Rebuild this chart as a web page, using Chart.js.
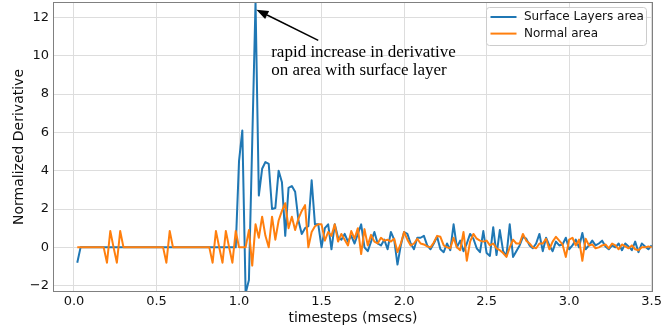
<!DOCTYPE html>
<html>
<head>
<meta charset="utf-8">
<script src="https://cdn.jsdelivr.net/npm/chart.js@4.4.0/dist/chart.umd.min.js"></script>
<style>
  html, body { margin: 0; padding: 0; background: #fff; }
  #chart { display: block; }
</style>
</head>
<body>
<canvas id="chart" width="671" height="333"></canvas>
<script>
// Data
const timesteps = [
  0.02, 0.04, 0.06, 0.08, 0.10, 0.12, 0.14, 0.16, 0.18, 0.20,
  0.22, 0.24, 0.26, 0.28, 0.30, 0.32, 0.34, 0.36, 0.38, 0.40,
  0.42, 0.44, 0.46, 0.48, 0.50, 0.52, 0.54, 0.56, 0.58, 0.60,
  0.62, 0.64, 0.66, 0.68, 0.70, 0.72, 0.74, 0.76, 0.78, 0.80,
  0.82, 0.84, 0.86, 0.88, 0.90, 0.92, 0.94, 0.96, 0.98, 1.00,
  1.02, 1.04, 1.06, 1.08, 1.10, 1.12, 1.14, 1.16, 1.18, 1.20,
  1.22, 1.24, 1.26, 1.28, 1.30, 1.32, 1.34, 1.36, 1.38, 1.40,
  1.42, 1.44, 1.46, 1.48, 1.50, 1.52, 1.54, 1.56, 1.58, 1.60,
  1.62, 1.64, 1.66, 1.68, 1.70, 1.72, 1.74, 1.76, 1.78, 1.80,
  1.82, 1.84, 1.86, 1.88, 1.90, 1.92, 1.94, 1.96, 1.98, 2.00,
  2.02, 2.04, 2.06, 2.08, 2.10, 2.12, 2.14, 2.16, 2.18, 2.20,
  2.22, 2.24, 2.26, 2.28, 2.30, 2.32, 2.34, 2.36, 2.38, 2.40,
  2.42, 2.44, 2.46, 2.48, 2.50, 2.52, 2.54, 2.56, 2.58, 2.60,
  2.62, 2.64, 2.66, 2.68, 2.70, 2.72, 2.74, 2.76, 2.78, 2.80,
  2.82, 2.84, 2.86, 2.88, 2.90, 2.92, 2.94, 2.96, 2.98, 3.00,
  3.02, 3.04, 3.06, 3.08, 3.10, 3.12, 3.14, 3.16, 3.18, 3.20,
  3.22, 3.24, 3.26, 3.28, 3.30, 3.32, 3.34, 3.36, 3.38, 3.40,
  3.42, 3.44, 3.46, 3.48, 3.50,
];

const surfaceLayers = [
  -0.8, 0, 0, 0, 0, 0, 0, 0, 0, 0,
  0, 0, 0, 0, 0, 0, 0, 0, 0, 0,
  0, 0, 0, 0, 0, 0, 0, 0, 0, 0,
  0, 0, 0, 0, 0, 0, 0, 0, 0, 0,
  0, 0, 0, 0, 0, 0, 0, 0, 0, 4.5,
  6.1, -2.4, -1.7, 5.5, 12.8, 2.7, 4.1, 4.45, 4.35, 2.0,
  2.05, 4.0, 3.4, 0.6, 3.1, 3.2, 2.9, 1.4, 0.7, 1.0,
  1.1, 3.5, 1.2, 1.2, 0.0, 1.0, 1.2, -0.1, 1.2, 0.5,
  0.4, 0.7, 0.3, 0.6, 0.2, 0.7, 1.2, 0.0, -0.2, 0.3,
  0.8, 0.2, 0.1, 0.4, -0.1, 0.8, 0.4, -0.9, 0.1, 0.8,
  0.7, 0.2, -0.1, 0.5, 0.5, 0.6, 0.1, -0.1, 0.2, 0.55,
  -0.1, -0.25, 0.2, -0.15, 1.2, 0.0, 0.35, -0.2, 0.2, 0.7,
  0.45, -0.05, -0.25, 0.85, -0.3, -0.45, 1.05, -0.4, 0.9, -0.2,
  -0.45, 1.2, -0.5, -0.2, 0.1, 0.55, 0.45, 0.1, -0.05, 0.2,
  0.7, -0.2, 0.5, 0.1, -0.2, 0.3, 0.1, 0.15, 0.5, -0.1,
  0.1, 0.4, 0.0, 0.75, -0.1, 0.1, 0.35, 0.1, 0.2, 0.35,
  0.05, -0.1, 0.1, 0.0, 0.2, -0.15, 0.2, 0.05, -0.15, 0.3,
  -0.25, 0.2, 0.05, -0.1, 0.1,
];

const normalArea = [
  0, 0, 0, 0, 0, 0, 0, 0, 0, -0.8,
  0.85, 0, -0.8, 0.85, 0, 0, 0, 0, 0, 0,
  0, 0, 0, 0, 0, 0, 0, -0.8, 0.85, 0,
  0, 0, 0, 0, 0, 0, 0, 0, 0, 0,
  0, -0.8, 0.85, 0, -0.8, 0.85, 0, -0.8, 0.85, 0,
  0, 0, 0.9, -0.95, 1.2, 0.5, 1.6, 0.6, 0.0, 1.6,
  0.4, 1.4, 1.9, 2.3, 1.0, 1.6, 0.9, 1.5, 1.9, 2.2,
  0.0, 0.8, 1.1, 1.2, 1.2, 0.35, 0.8, 0.6, 1.2, 0.3,
  0.7, 0.4, 0.1, 0.85, 0.45, 1.0, -0.35, 0.95, 0.1, 0.65,
  0.3, 0.2, 0.5, 0.35, 0.4, 0.3, 0.45, -0.25, 0.2, 0.8,
  0.4, 0.1, 0.2, 0.45, 0.2, 0.15, 0.05, 0.0, 0.25, 0.6,
  0.55, 0.1, 0.0, -0.05, 0.5, 0.0, -0.15, 0.8, -0.7, 0.3,
  0.7, 0.45, 0.35, 0.3, 0.35, 0.1, 0.2, -0.05, -0.15, -0.3,
  -0.5, 0.0, 0.4, 0.2, 0.2, 0.7, 0.35, 0.2, 0.0, -0.05,
  0.2, 0.2, 0.45, -0.1, 0.3, 0.55, 0.35, 0.15, -0.5, 0.4,
  0.5, 0.1, 0.4, -0.7, 0.45, 0.1, 0.15, -0.05, 0.0, 0.1,
  0.15, -0.05, 0.2, 0.1, -0.1, 0.15, 0.05, -0.05, 0.1, -0.1,
  -0.15, 0.0, 0.0, 0.05, 0.0,
];

const xTicks = [0, 0.5, 1, 1.5, 2, 2.5, 3, 3.5];
const yTicks = [-2, 0, 2, 4, 6, 8, 10, 12];
const seriesNames = ["Surface Layers area", "Normal area"];
const seriesColors = ["#1f77b4", "#ff7f0e"];
const noteLines = ["rapid increase in derivative", "on area with surface layer"];

const sansFont = "DejaVu Sans";
const gridColor = "#dddddd";
const textColor = "#111111";

// Helpers
const toPoints = (values) => values.map((v, i) => ({ x: timesteps[i], y: v }));
const minusSign = (v) => (v < 0 ? "\u2212" + Math.abs(v) : String(v));

function lineDataset(i, values, order) {
  return {
    label: seriesNames[i],
    data: toPoints(values),
    borderColor: seriesColors[i],
    backgroundColor: seriesColors[i],
    borderWidth: 2,
    borderJoinStyle: "round",
    pointRadius: 0,
    tension: 0,
    clip: 0,
    order,
  };
}

// keep chart.js from reserving room for the outer tick labels
function fixScale(s, size) {
  if (s.isHorizontal()) s.height = size; else s.width = size;
  s.paddingTop = 0;
  s.paddingBottom = 0;
  s.paddingLeft = 0;
  s.paddingRight = 0;
}

// frame, axis titles, arrow note and legend
const overlay = {
  id: "overlay",
  afterDraw(chart) {
    const { ctx, chartArea: a, scales: { x, y } } = chart;
    ctx.save();

    ctx.strokeStyle = "#808080";
    ctx.lineWidth = 1;
    ctx.strokeRect(a.left + 0.5, a.top + 0.5, a.right - a.left - 1, a.bottom - a.top - 1);

    ctx.fillStyle = textColor;
    ctx.font = `14px "${sansFont}"`;
    ctx.textAlign = "center";
    ctx.textBaseline = "middle";
    ctx.fillText("timesteps (msecs)", (a.left + a.right) / 2, 318);
    ctx.save();
    ctx.translate(19, (a.top + a.bottom) / 2);
    ctx.rotate(-Math.PI / 2);
    ctx.fillText("Normalized Derivative", 0, 0);
    ctx.restore();

    // arrow towards the peak
    const tipX = x.getPixelForValue(1.105), tipY = y.getPixelForValue(12.4);
    const tailX = x.getPixelForValue(1.48), tailY = y.getPixelForValue(10.8);
    const ang = Math.atan2(tipY - tailY, tipX - tailX);
    const headLen = 12, headHalf = 4.5;
    const baseX = tipX - headLen * Math.cos(ang), baseY = tipY - headLen * Math.sin(ang);
    ctx.strokeStyle = "#000";
    ctx.fillStyle = "#000";
    ctx.lineWidth = 1.5;
    ctx.beginPath();
    ctx.moveTo(tailX, tailY);
    ctx.lineTo(baseX, baseY);
    ctx.stroke();
    ctx.beginPath();
    ctx.moveTo(tipX, tipY);
    ctx.lineTo(baseX + headHalf * Math.sin(ang), baseY - headHalf * Math.cos(ang));
    ctx.lineTo(baseX - headHalf * Math.sin(ang), baseY + headHalf * Math.cos(ang));
    ctx.closePath();
    ctx.fill();

    ctx.font = `17px "Liberation Serif"`;
    ctx.textAlign = "left";
    ctx.textBaseline = "alphabetic";
    const noteX = x.getPixelForValue(1.195), noteY = y.getPixelForValue(9.93);
    noteLines.forEach((line, i) => ctx.fillText(line, noteX, noteY + i * 17.5));

    // legend box, upper right
    const boxW = 160, boxH = 38;
    const boxX = a.right - 6.5 - boxW, boxY = a.top + 5.5;
    ctx.beginPath();
    ctx.roundRect(boxX, boxY, boxW, boxH, 3);
    ctx.fillStyle = "rgba(255,255,255,0.8)";
    ctx.fill();
    ctx.strokeStyle = "#cccccc";
    ctx.lineWidth = 1;
    ctx.stroke();
    ctx.font = `12px "${sansFont}"`;
    ctx.textBaseline = "middle";
    seriesNames.forEach((name, i) => {
      const rowY = boxY + 9.5 + i * 16.6;
      ctx.strokeStyle = seriesColors[i];
      ctx.lineWidth = 2;
      ctx.beginPath();
      ctx.moveTo(boxX + 4, rowY);
      ctx.lineTo(boxX + 30, rowY);
      ctx.stroke();
      ctx.fillStyle = textColor;
      ctx.fillText(name, boxX + 37.5, rowY);
    });

    ctx.restore();
  },
};

new Chart(document.getElementById("chart").getContext("2d"), {
  type: "line",
  data: {
    datasets: [
      lineDataset(0, surfaceLayers, 1),
      lineDataset(1, normalArea, 0),
    ],
  },
  options: {
    responsive: false,
    animation: false,
    devicePixelRatio: 1,
    layout: { padding: { top: 2, right: 18, left: 0, bottom: 0 } },
    plugins: {
      legend: { display: false },
      tooltip: { enabled: false },
    },
    scales: {
      x: {
        type: "linear",
        min: -0.127,
        max: 3.508,
        afterFit: (s) => fixScale(s, 41),
        afterBuildTicks: (s) => { s.ticks = xTicks.map(value => ({ value })); },
        grid: { color: gridColor, lineWidth: 1, drawTicks: false },
        border: { display: false },
        ticks: {
          padding: 2,
          maxRotation: 0,
          autoSkip: false,
          color: textColor,
          font: { family: sansFont, size: 13 },
          callback: (v) => Number(v).toFixed(1),
        },
      },
      y: {
        type: "linear",
        min: -2.33,
        max: 12.8,
        afterFit: (s) => fixScale(s, 53),
        afterBuildTicks: (s) => { s.ticks = yTicks.map(value => ({ value })); },
        grid: { color: gridColor, lineWidth: 1, drawTicks: false },
        border: { display: false },
        ticks: {
          padding: 4,
          autoSkip: false,
          color: textColor,
          font: { family: sansFont, size: 13 },
          callback: (v) => minusSign(v),
        },
      },
    },
  },
  plugins: [overlay],
});
</script>
</body>
</html>
